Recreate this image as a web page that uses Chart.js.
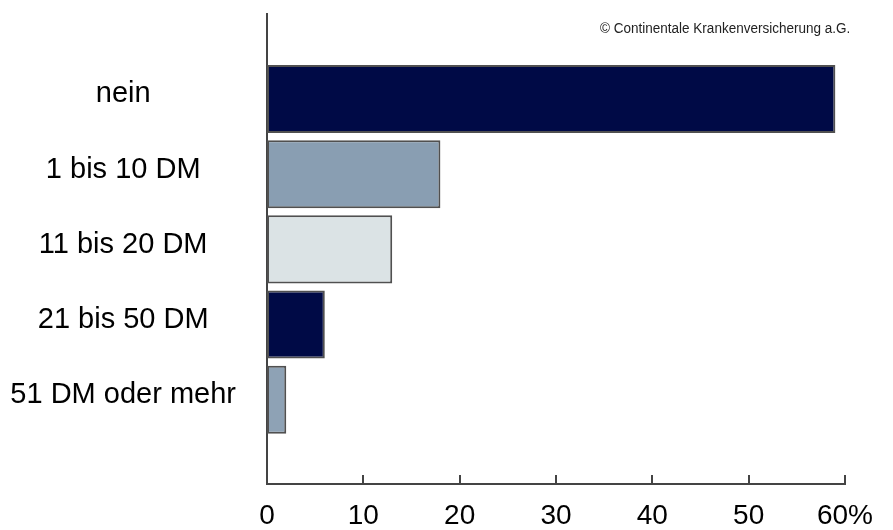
<!DOCTYPE html>
<html>
<head>
<meta charset="utf-8">
<script src="https://cdn.jsdelivr.net/npm/chart.js@4/dist/chart.umd.min.js"></script>
<style>
  html, body { margin: 0; padding: 0; background: #ffffff; }
  #wrap { position: relative; width: 893px; height: 530px; }
  #copy { position: absolute; right: 43px; top: 20px; font-family: "Liberation Sans", Arial, sans-serif; font-size: 14px; line-height: 16px; color: #222; white-space: nowrap; transform-origin: right center; }
</style>
</head>
<body>
<div id="wrap">
  <canvas id="c" width="893" height="530"></canvas>
  <div id="copy">© Continentale Krankenversicherung a.G.</div>
</div>
<script>
// Data
const categories = ["nein", "1 bis 10 DM", "11 bis 20 DM", "21 bis 50 DM", "51 DM oder mehr"];
const values = [59, 18, 13, 6, 2];
const xTickValues = [0, 10, 20, 30, 40, 50, 60];
const xTickLabels = ["0", "10", "20", "30", "40", "50", "60%"];
const barColors = ["#000a46", "#899eb2", "#dbe3e5", "#000a46", "#8ea2b5"];

const points = values.map((v, i) => ({ x: v, y: i }));

// condense the copyright line to the reference width
const copy = document.getElementById('copy');
copy.style.transform = 'scaleX(' + (250 / copy.offsetWidth) + ')';

const inwardTicks = {
  id: 'inwardTicks',
  afterDraw(chart) {
    const xs = chart.scales.x;
    const ctx = chart.ctx;
    const bottom = chart.chartArea.bottom;
    ctx.save();
    ctx.strokeStyle = '#444';
    ctx.lineWidth = 2;
    xTickValues.forEach(v => {
      if (v === 0) return;
      const px = Math.round(xs.getPixelForValue(v));
      ctx.beginPath();
      ctx.moveTo(px, bottom);
      ctx.lineTo(px, bottom - 9);
      ctx.stroke();
    });
    ctx.restore();
  }
};

new Chart(document.getElementById('c'), {
  type: 'bar',
  data: {
    datasets: [{
      data: points,
      backgroundColor: barColors,
      borderColor: '#505050',
      borderWidth: 2,
      borderSkipped: false,
      barPercentage: 1,
      categoryPercentage: 0.905
    }]
  },
  options: {
    indexAxis: 'y',
    responsive: false,
    animation: false,
    layout: { padding: { top: 14, right: 48, left: 0, bottom: 0 } },
    plugins: { legend: { display: false }, tooltip: { enabled: false } },
    scales: {
      x: {
        type: 'linear',
        min: 0, max: 60,
        offset: false,
        afterBuildTicks: s => { s.ticks = xTickValues.map(v => ({ value: v })); },
        ticks: {
          color: '#000',
          font: { family: 'Liberation Sans, Arial, sans-serif', size: 28 },
          padding: 15,
          maxRotation: 0,
          callback: (v) => xTickLabels[xTickValues.indexOf(v)]
        },
        grid: { display: false, drawTicks: false, offset: false },
        border: { display: true, color: '#444', width: 2 },
        afterFit: s => { s.height = 46; s.paddingLeft = 0; s.paddingRight = 0; }
      },
      y: {
        type: 'linear',
        reverse: true,
        offset: false,
        min: -1.13, max: 5.12,
        // category labels sit slightly above the bar centres in the reference
        afterBuildTicks: s => { s.ticks = categories.map((c, i) => ({ value: i - 0.06 })); },
        ticks: {
          color: '#000',
          font: { family: 'Liberation Sans, Arial, sans-serif', size: 29 },
          padding: 31,
          crossAlign: 'center',
          callback: (v) => categories[Math.round(v)]
        },
        grid: { display: false, drawTicks: false, offset: false },
        border: { display: true, color: '#444', width: 2 },
        afterFit: s => { s.width = 267; s.paddingTop = 0; s.paddingBottom = 0; }
      }
    }
  },
  plugins: [inwardTicks]
});
</script>
</body>
</html>
